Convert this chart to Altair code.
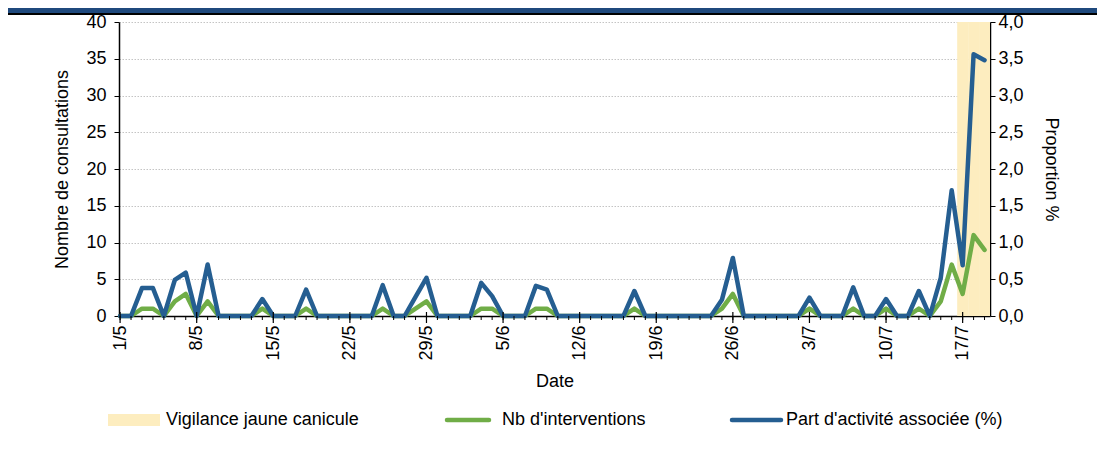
import json
import altair as alt
import pandas as pd

# ---------------- data ----------------
dates = [f"{d.day}/{d.month}" for d in pd.date_range("2023-05-01", periods=80)]

nb_interventions = [
    0, 0, 1, 1, 0, 2, 3, 0, 2, 0,
    0, 0, 0, 1, 0, 0, 0, 1, 0, 0,
    0, 0, 0, 0, 1, 0, 0, 1, 2, 0,
    0, 0, 0, 1, 1, 0, 0, 0, 1, 1,
    0, 0, 0, 0, 0, 0, 0, 1, 0, 0,
    0, 0, 0, 0, 0, 1, 3, 0, 0, 0,
    0, 0, 0, 1, 0, 0, 0, 1, 0, 0,
    1, 0, 0, 1, 0, 2, 7, 3, 11, 9,
]

part_activite = [
    0, 0, 0.38, 0.38, 0, 0.49, 0.59, 0, 0.70, 0,
    0, 0, 0, 0.23, 0, 0, 0, 0.36, 0, 0,
    0, 0, 0, 0, 0.42, 0, 0, 0.26, 0.52, 0,
    0, 0, 0, 0.45, 0.27, 0, 0, 0, 0.41, 0.36,
    0, 0, 0, 0, 0, 0, 0, 0.34, 0, 0,
    0, 0, 0, 0, 0, 0.22, 0.79, 0, 0, 0,
    0, 0, 0, 0.25, 0, 0, 0, 0.39, 0, 0,
    0.23, 0, 0, 0.34, 0, 0.52, 1.71, 0.69, 3.56, 3.48,
]

vigilance_days = ["17/7", "18/7", "19/7"]
week_ticks = [0, 7, 14, 21, 28, 35, 42, 49, 56, 63, 70, 77]
left_ticks = [0, 5, 10, 15, 20, 25, 30, 35, 40]
right_ticks = [0, 0.5, 1.0, 1.5, 2.0, 2.5, 3.0, 3.5, 4.0]
legend_labels = ["Vigilance jaune canicule", "Nb d'interventions", "Part d'activité associée (%)"]

# ---------------- tables ----------------
df = pd.DataFrame({
    "idx": list(range(len(dates))),
    "date": dates,
    "nb": nb_interventions,
    "part": part_activite,
})
band_df = pd.DataFrame({"idx": [dates.index(d) for d in vigilance_days]})
week_df = pd.DataFrame({"idx": week_ticks})
one = pd.DataFrame({"k": [0]})

# ---------------- style ----------------
W, H = 871, 294
FONT = "Liberation Sans"
FS = 18
GREEN = "#70ad47"
BLUE = "#255e91"
YELLOW = "#fdedbf"
NAVY = "#1f497d"

xscale = alt.Scale(domain=[-0.1, 79.5], nice=False, zero=False)
label_expr = json.dumps(dates) + "[datum.value]"
xaxis = alt.Axis(
    values=week_ticks, labelExpr=label_expr, labelAngle=-90, ticks=False, tickSize=0,
    labelPadding=9, labelFlush=False, labelOverlap=False, grid=False,
    domainColor="black", domainWidth=1.5, title="Date", titlePadding=12,
)
X = alt.X("idx:Q", scale=xscale, axis=xaxis)

band = alt.Chart(band_df).transform_calculate(
    x0="datum.idx - 0.5", x1="datum.idx + 0.5"
).mark_rect(color=YELLOW).encode(
    x=alt.X("x0:Q", scale=xscale, axis=xaxis), x2="x1:Q",
    y=alt.value(0), y2=alt.value(H),
)

minor = alt.Chart(df).mark_rule(color="black", strokeWidth=1).encode(
    x=alt.X("idx:Q", scale=xscale, axis=xaxis), y=alt.value(H), y2=alt.value(H + 4)
)
major = alt.Chart(week_df).mark_rule(color="black", strokeWidth=1.2).encode(
    x=alt.X("idx:Q", scale=xscale, axis=xaxis), y=alt.value(H - 4), y2=alt.value(H + 7)
)

green = alt.Chart(df).mark_line(color=GREEN, strokeWidth=4.5, strokeJoin="round", strokeCap="round").encode(
    x=X,
    y=alt.Y("nb:Q", scale=alt.Scale(domain=[0, 40], nice=False),
            axis=alt.Axis(values=left_ticks, orient="left", title="Nombre de consultations",
                          grid=True, gridColor="#c4c4c4", gridDash=[1.5, 1.5], gridWidth=1,
                          domainColor="black", domainWidth=1.5, tickColor="black", tickSize=5,
                          labelPadding=8, titlePadding=14)),
)

blue = alt.Chart(df).mark_line(color=BLUE, strokeWidth=4.5, strokeJoin="round", strokeCap="round").encode(
    x=X,
    y=alt.Y("part:Q", scale=alt.Scale(domain=[0, 4], nice=False),
            axis=alt.Axis(values=right_ticks, orient="right", title="Proportion %",
                          labelExpr="replace(format(datum.value, '.1f'), '.', ',')",
                          grid=False, domainColor="black", domainWidth=1.5, tickColor="black",
                          tickSize=5, labelPadding=3, titlePadding=18)),
)

# header band
header = alt.Chart(one).mark_rect(color=NAVY).encode(
    x=alt.value(-111), x2=alt.value(W + 107), y=alt.value(-14), y2=alt.value(-9)
)
header_line = alt.Chart(one).mark_rect(color="black").encode(
    x=alt.value(-111), x2=alt.value(W + 107), y=alt.value(-9), y2=alt.value(-7)
)

# legend
LY = 398
leg_rect = alt.Chart(one).mark_rect(color=YELLOW).encode(
    x=alt.value(-11), x2=alt.value(41), y=alt.value(LY - 6), y2=alt.value(LY + 6)
)
leg_green = alt.Chart(one).mark_rule(color=GREEN, strokeWidth=4.5, strokeCap="round").encode(
    x=alt.value(328), x2=alt.value(370), y=alt.value(LY)
)
leg_blue = alt.Chart(one).mark_rule(color=BLUE, strokeWidth=4.5, strokeCap="round").encode(
    x=alt.value(613), x2=alt.value(662), y=alt.value(LY)
)
def leg_text(label, xpos):
    return alt.Chart(one).mark_text(
        text=label, align="left", baseline="middle", font=FONT, fontSize=FS, color="black"
    ).encode(x=alt.value(xpos), y=alt.value(LY))

chart = alt.layer(
    header, header_line, band, green, blue, minor, major,
    leg_rect, leg_green, leg_blue,
    leg_text(legend_labels[0], 47),
    leg_text(legend_labels[1], 383),
    leg_text(legend_labels[2], 667),
).resolve_scale(y="independent").properties(
    width=W, height=H,
    autosize=alt.AutoSizeParams(type="none"),
    padding={"left": 111, "top": 14, "right": 107, "bottom": 127},
).configure_view(stroke=None).configure_axis(
    labelFont=FONT, titleFont=FONT, labelFontSize=FS, titleFontSize=FS,
    labelColor="black", titleColor="black", titleFontWeight="normal",
)

chart.save("out.html", embed_options={"renderer": "svg", "actions": False})
